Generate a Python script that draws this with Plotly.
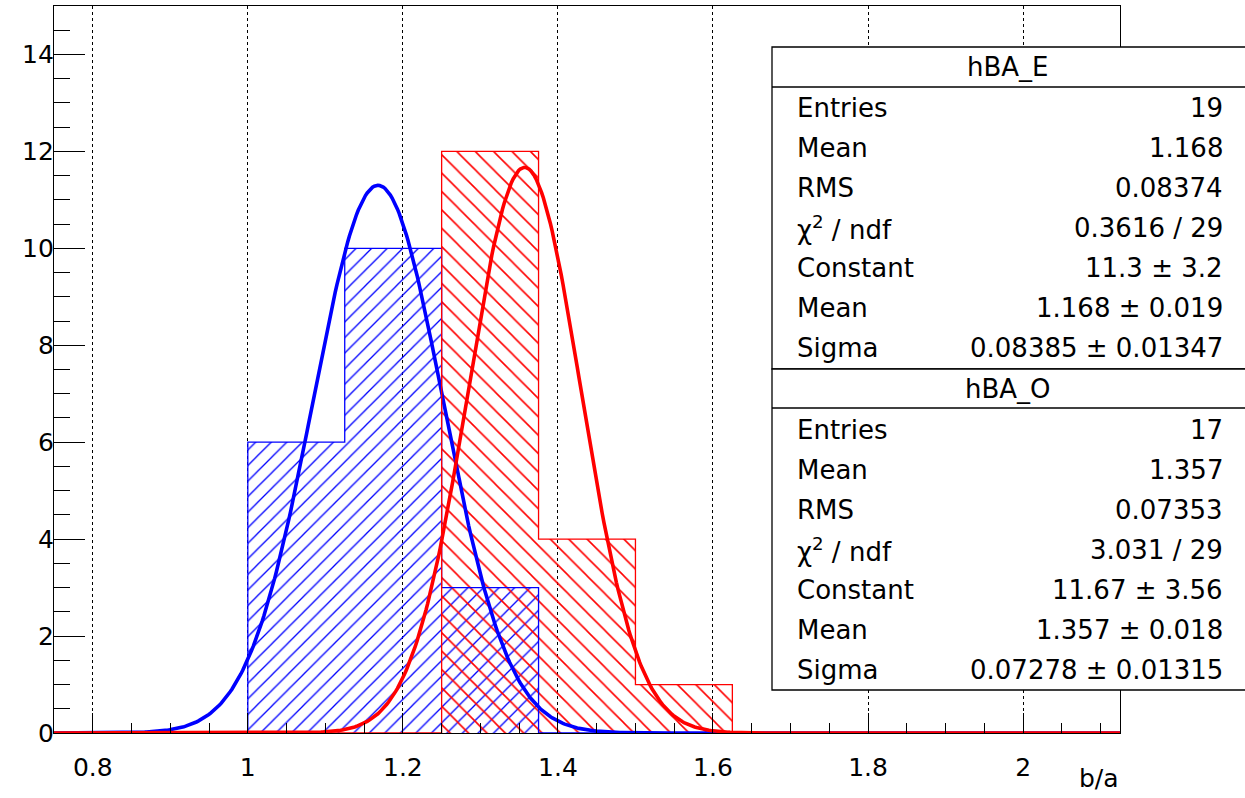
import numpy as np
import plotly.graph_objects as go

# ---- data ----
x_min = 0.75
bin_width = 0.125
n_bins = 11
counts_E = [0, 0, 6, 10, 3, 0, 0, 0, 0, 0, 0]   # hBA_E (blue)
counts_O = [0, 0, 0, 0, 12, 4, 1, 0, 0, 0, 0]   # hBA_O (red)

fit_E = {"const": 11.3, "mean": 1.168, "sigma": 0.08385}
fit_O = {"const": 11.67, "mean": 1.357, "sigma": 0.07278}

stats_E_labels = ["Entries", "Mean", "RMS", "χ<sup>2</sup> / ndf", "Constant", "Mean", "Sigma"]
stats_E_values = ["19", "1.168", "0.08374", "0.3616 / 29", "11.3 ± 3.2", "1.168 ± 0.019", "0.08385 ± 0.01347"]
stats_O_labels = ["Entries", "Mean", "RMS", "χ<sup>2</sup> / ndf", "Constant", "Mean", "Sigma"]
stats_O_values = ["17", "1.357", "0.07353", "3.031 / 29", "11.67 ± 3.56", "1.357 ± 0.018", "0.07278 ± 0.01315"]

x_ticks = [0.8, 1.0, 1.2, 1.4, 1.6, 1.8, 2.0]
x_ticktext = ["0.8", "1", "1.2", "1.4", "1.6", "1.8", "2"]
x_title = "b/a"

# ---- derived ----
edges = [x_min + i * bin_width for i in range(n_bins + 1)]
centers = [x_min + (i + 0.5) * bin_width for i in range(n_bins)]
x_max = edges[-1]

W, H = 1245, 798
L, R, T, B = 54, W - 1120, 6, H - 733
pw, ph = W - L - R, H - T - B

def px2paper_x(px):
    return (px - L) / pw

def px2paper_y(py):
    return (H - B - py) / ph

FONT = "DejaVu Sans, Liberation Sans, Arial, sans-serif"
BLUE = "#0000ff"
RED = "#ff0000"

fig = go.Figure()

def add_hist(counts, color, shape, size):
    fig.add_trace(go.Bar(
        x=centers, y=counts, width=bin_width,
        marker=dict(color="rgba(0,0,0,0)", line=dict(width=0),
                    pattern=dict(shape=shape, size=size, solidity=0.12, fillmode="overlay",
                                 fgcolor=color, bgcolor="rgba(0,0,0,0)", fgopacity=1)),
        hoverinfo="skip", showlegend=False))

def add_outline(counts, color):
    fig.add_trace(go.Scatter(
        x=edges, y=list(counts) + [counts[-1]], mode="lines",
        line=dict(color=color, width=1.3, shape="hv"),
        hoverinfo="skip", showlegend=False))

def add_fit(p, color):
    xs = np.linspace(x_min, x_max, 600)
    ys = p["const"] * np.exp(-0.5 * ((xs - p["mean"]) / p["sigma"]) ** 2)
    fig.add_trace(go.Scatter(
        x=xs, y=ys, mode="lines", line=dict(color=color, width=3.6),
        hoverinfo="skip", showlegend=False))

add_hist(counts_E, BLUE, "/", 11)
add_hist(counts_O, RED, "\\", 13)
add_outline(counts_E, BLUE)
add_fit(fit_E, BLUE)
add_outline(counts_O, RED)
add_fit(fit_O, RED)

# ---- stats boxes ----
box_left = px2paper_x(772)
box_right = px2paper_x(1260)
shapes = []
for top, head_bot, bot in [(47, 87, 369), (369, 408, 690)]:
    shapes.append(dict(type="rect", xref="paper", yref="paper",
                       x0=box_left, x1=box_right, y0=px2paper_y(bot), y1=px2paper_y(top),
                       fillcolor="white", line=dict(color="black", width=1.3), layer="above"))
    shapes.append(dict(type="line", xref="paper", yref="paper",
                       x0=box_left, x1=box_right, y0=px2paper_y(head_bot), y1=px2paper_y(head_bot),
                       line=dict(color="black", width=1.3), layer="above"))

annotations = []
FS = 26
def add_stats(title, title_y, labels, values, first_y):
    annotations.append(dict(text=title, xref="paper", yref="paper", x=px2paper_x(1008),
                            y=px2paper_y(title_y), xanchor="center", yanchor="middle",
                            showarrow=False, font=dict(family=FONT, size=FS, color="black")))
    for i, (lab, val) in enumerate(zip(labels, values)):
        yy = px2paper_y(first_y + i * 40)
        annotations.append(dict(text=lab, xref="paper", yref="paper", x=px2paper_x(795), y=yy,
                                xanchor="left", yanchor="middle", showarrow=False,
                                font=dict(family=FONT, size=FS, color="black")))
        annotations.append(dict(text=val, xref="paper", yref="paper", x=px2paper_x(1225), y=yy,
                                xanchor="right", yanchor="middle", showarrow=False,
                                font=dict(family=FONT, size=FS, color="black")))

add_stats("hBA_E", 67, stats_E_labels, stats_E_values, 108)
add_stats("hBA_O", 389, stats_O_labels, stats_O_values, 430)

annotations.append(dict(text=x_title, xref="paper", yref="paper", x=px2paper_x(1121), y=px2paper_y(778),
                        xanchor="right", yanchor="middle", showarrow=False,
                        font=dict(family=FONT, size=FS - 1, color="black")))

fig.update_layout(
    width=W, height=H,
    margin=dict(l=L, r=R, t=T, b=B, pad=0, autoexpand=False),
    paper_bgcolor="white", plot_bgcolor="white",
    barmode="overlay", bargap=0,
    showlegend=False,
    shapes=shapes, annotations=annotations,
    font=dict(family=FONT, size=FS, color="black"),
    xaxis=dict(range=[x_min, x_max], tickvals=x_ticks, ticktext=x_ticktext,
               ticks="inside", ticklen=20, tickwidth=1, tickcolor="black",
               showline=True, linecolor="black", linewidth=1.3, mirror=True,
               showgrid=True, gridcolor="black", gridwidth=1, griddash="dot",
               zeroline=False, ticklabelstandoff=12, automargin=False,
               minor=dict(dtick=0.05, tick0=0.0, ticks="inside", ticklen=10, tickcolor="black", showgrid=False),
               tickfont=dict(family=FONT, size=FS - 1, color="black")),
    yaxis=dict(range=[0, 15], dtick=2, tick0=0,
               ticks="inside", ticklen=31, tickwidth=1, tickcolor="black",
               showline=True, linecolor="black", linewidth=1.3, mirror=True,
               showgrid=False, zeroline=False, ticklabelstandoff=-6, automargin=False,
               minor=dict(dtick=0.5, tick0=0, ticks="inside", ticklen=16, tickcolor="black", showgrid=False),
               tickfont=dict(family=FONT, size=FS - 1, color="black")),
)

fig.write_html("out.html", config={"displayModeBar": False},
               post_script="document.body.style.margin='0px';document.body.style.overflow='hidden';")
